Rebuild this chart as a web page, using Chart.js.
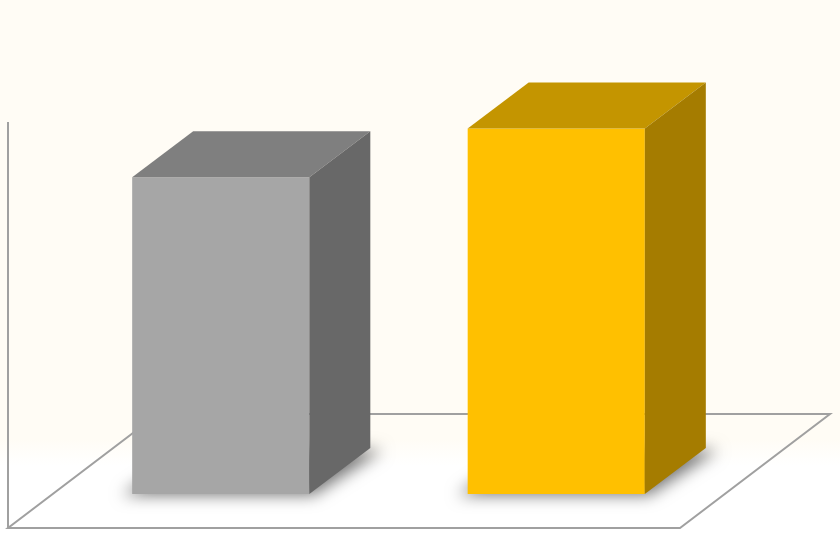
<!DOCTYPE html>
<html>
<head>
<meta charset="utf-8">
<script src="https://cdn.jsdelivr.net/npm/chart.js@4"></script>
<style>
  html, body { margin: 0; padding: 0; background: #ffffff; }
  #wrap { width: 840px; height: 535px; }
</style>
</head>
<body>
<div id="wrap"><canvas id="barChart"></canvas></div>
<script>
// data (no labels shown, scale 0-100)
const categories = ['A', 'B'];
const values = [78, 90];
const yMin = 0;
const yMax = 100;

const frontColors = ['#a6a6a6', '#ffc000'];
const topColors = ['#7f7f7f', '#c49500'];
const sideColors = ['#686868', '#a57c00'];

// depth of a bar and of the floor
const barDx = 61, barDy = -46;
const floorFront = { dx: -45, dy: 34 };
const floorDepth = { dx: 150, dy: -114 };
const lineColor = '#a0a0a0';

const background = {
    id: 'background',
    beforeDraw(chart) {
        const ctx = chart.ctx;
        const h = chart.height;
        const g = ctx.createLinearGradient(0, 0, 0, h);
        g.addColorStop(0, '#fffcf5');
        g.addColorStop(0.82, '#fffcf5');
        g.addColorStop(0.87, '#ffffff');
        g.addColorStop(1, '#ffffff');
        ctx.save();
        ctx.fillStyle = g;
        ctx.fillRect(0, 0, chart.width, h);
        ctx.restore();
    }
};

const floor3d = {
    id: 'floor3d',
    beforeDatasetsDraw(chart) {
        const ctx = chart.ctx;
        const area = chart.chartArea;
        const y0 = chart.scales.y.getPixelForValue(yMin);
        const yTop = chart.scales.y.getPixelForValue(yMax);
        const fl = area.left + floorFront.dx;
        const fr = area.right + floorFront.dx + 1;
        const fy = y0 + floorFront.dy;

        ctx.save();
        ctx.strokeStyle = lineColor;
        ctx.lineWidth = 2;
        // wall edge
        ctx.beginPath();
        ctx.moveTo(fl, yTop + floorFront.dy);
        ctx.lineTo(fl, fy);
        ctx.stroke();
        // floor outline
        ctx.beginPath();
        ctx.moveTo(fl, fy);
        ctx.lineTo(fr, fy);
        ctx.lineTo(fr + floorDepth.dx, fy + floorDepth.dy);
        ctx.lineTo(fl + floorDepth.dx, fy + floorDepth.dy);
        ctx.closePath();
        ctx.stroke();

        // soft shadow under each bar: shape drawn off canvas, only its shadow lands here
        const off = 2000;
        const meta = chart.getDatasetMeta(0);
        meta.data.forEach(bar => {
            const p = bar.getProps(['x', 'base', 'width'], true);
            const x0 = p.x - p.width / 2;
            const x1 = p.x + p.width / 2;
            const b = p.base;
            ctx.save();
            ctx.shadowColor = 'rgba(0,0,0,0.55)';
            ctx.shadowBlur = 16;
            ctx.shadowOffsetX = off;
            ctx.shadowOffsetY = 0;
            ctx.fillStyle = '#000';
            ctx.beginPath();
            ctx.moveTo(x0 - 10 - off, b + 1);
            ctx.lineTo(x1 + 4 - off, b + 1);
            ctx.lineTo(x1 + barDx + 12 - off, b + barDy + 2);
            ctx.lineTo(x0 + barDx - off, b + barDy);
            ctx.closePath();
            ctx.fill();
            ctx.restore();
        });
        ctx.restore();
    }
};

const faces3d = {
    id: 'faces3d',
    afterDatasetsDraw(chart) {
        const ctx = chart.ctx;
        const meta = chart.getDatasetMeta(0);
        ctx.save();
        meta.data.forEach((bar, i) => {
            const p = bar.getProps(['x', 'y', 'base', 'width'], true);
            const x0 = p.x - p.width / 2;
            const x1 = p.x + p.width / 2;
            // top face
            ctx.fillStyle = topColors[i];
            ctx.beginPath();
            ctx.moveTo(x0, p.y);
            ctx.lineTo(x0 + barDx, p.y + barDy);
            ctx.lineTo(x1 + barDx, p.y + barDy);
            ctx.lineTo(x1, p.y);
            ctx.closePath();
            ctx.fill();
            // side face
            ctx.fillStyle = sideColors[i];
            ctx.beginPath();
            ctx.moveTo(x1, p.y);
            ctx.lineTo(x1 + barDx, p.y + barDy);
            ctx.lineTo(x1 + barDx, p.base + barDy);
            ctx.lineTo(x1, p.base);
            ctx.closePath();
            ctx.fill();
        });
        ctx.restore();
    }
};

const ctx = document.getElementById('barChart').getContext('2d');
const barChart = new Chart(ctx, {
    type: 'bar',
    data: {
        labels: categories,
        datasets: [{
            data: values,
            backgroundColor: frontColors,
            borderWidth: 0,
            barPercentage: 0.528,
            categoryPercentage: 1
        }]
    },
    options: {
        responsive: true,
        maintainAspectRatio: false,
        animation: false,
        layout: {
            padding: { left: 53, right: 116, top: 88, bottom: 41 }
        },
        scales: {
            x: { display: false },
            y: { display: false, min: yMin, max: yMax }
        },
        plugins: {
            legend: { display: false },
            tooltip: { enabled: false }
        }
    },
    plugins: [background, floor3d, faces3d]
});
</script>
</body>
</html>
